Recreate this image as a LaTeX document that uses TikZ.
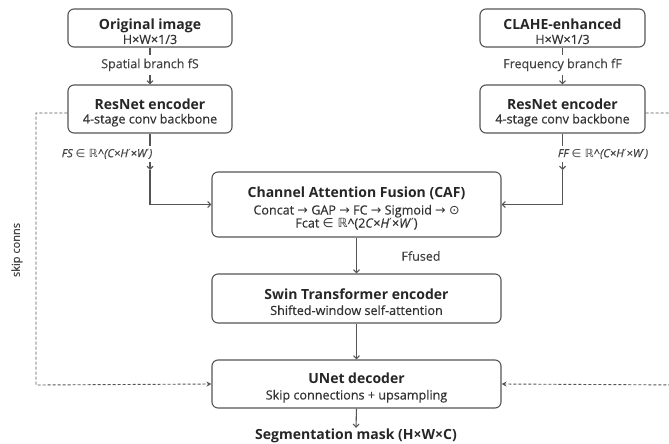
\documentclass[tikz,border=0pt]{standalone}
\usepackage{fontspec}
\setmainfont{Open Sans}
\newfontfamily\medf{Open Sans}[FakeBold=0.35]
\newfontfamily\symf{DejaVu Sans}
\usetikzlibrary{arrows.meta}
\definecolor{txt}{HTML}{262626}
\definecolor{subc}{HTML}{333333}
\definecolor{edge}{HTML}{555555}
\definecolor{lab}{HTML}{444444}
\newcommand{\sy}[1]{{\symf #1}}
\newcommand{\bt}[1]{{\fontsize{14}{13}\selectfont\bfseries\rule{0pt}{18pt}#1}}
\newcommand{\bs}[1]{{\medf\color{subc}#1}}
\begin{document}
\begin{tikzpicture}[x=1pt,y=-1pt,
  box/.style={draw=edge, line width=1.1pt, rounded corners=6pt, fill=white,
    align=center, inner sep=0pt, text=txt, font=\fontsize{12.6}{13}\selectfont},
  lbl/.style={font=\medf\fontsize{12.5}{13}\selectfont, text=lab, inner sep=2pt},
  arr/.style={draw=edge, line width=1.1pt, -{Straight Barb[length=3pt,width=6pt]}},
  skip/.style={draw=edge, line width=0.9pt, dash pattern=on 3pt off 2pt,
    -{Stealth[open,length=5pt,width=5pt]}}
]
\useasboundingbox (0,0) rectangle (669,444);
\fill[white] (0,0) rectangle (669,444);

% boxes
\node[box, minimum width=164pt, minimum height=38pt] (orig) at (150,28)
  {\bt{Original image}\\[1pt]\bs{H×W×1/3}};
\node[box, minimum width=165pt, minimum height=38pt] (clahe) at (562.5,28)
  {\bt{CLAHE-enhanced}\\[1pt]\bs{H×W×1/3}};
\node[box, minimum width=164pt, minimum height=48pt] (resL) at (150,109)
  {\bt{ResNet encoder}\\[1pt]\bs{4-stage conv backbone}};
\node[box, minimum width=165pt, minimum height=48pt] (resR) at (562.5,109)
  {\bt{ResNet encoder}\\[1pt]\bs{4-stage conv backbone}};
\node[box, minimum width=289pt, minimum height=65pt] (caf) at (356.5,204.5)
  {\bt{Channel Attention Fusion (CAF)}\\[4pt]
   \bs{Concat \sy{→} GAP \sy{→} FC \sy{→} Sigmoid \sy{→} \sy{⊙}}\\
   \bs{Fcat \sy{∈ ℝ}\^{}(2\textit{C}×\textit{H}\sy{′}×\textit{W}\sy{′})}};
\node[box, minimum width=289pt, minimum height=49pt] (swin) at (356.5,298.5)
  {\bt{Swin Transformer encoder}\\[2pt]\bs{Shifted-window self-attention}};
\node[box, minimum width=289pt, minimum height=48pt] (unet) at (356.5,384)
  {\bt{UNet decoder}\\[3pt]\bs{Skip connections + upsampling}};
\node[text=txt, font=\fontsize{14}{14}\selectfont\bfseries, inner sep=1pt] (seg) at (356,436)
  {Segmentation mask (H×W×C)};

% coordinates
\coordinate (fsL) at (150,170);
\coordinate (fsR) at (562.5,170);
\coordinate (skipL) at (36,385);
\coordinate (skipR) at (685,385);

% solid arrows
\draw[arr] (orig.south) -- (resL.north)
  node[lbl, fill=white, pos=0.47, inner ysep=4pt] (spl) {Spatial branch fS};
\draw[arr] (clahe.south) -- (resR.north)
  node[lbl, fill=white, pos=0.47, inner ysep=4pt] (frl) {Frequency branch fF};
\draw[arr] (resL.south) -- (fsL);
\draw[arr] (fsL) |- (caf.west);
\draw[arr] (resR.south) -- (fsR);
\draw[arr] (fsR) |- (caf.east);
\node[lbl, fill=white, font=\medf\fontsize{11.2}{12}\selectfont\itshape, inner sep=3pt] (fslab) at (107,154)
  {FS \sy{∈ ℝ}\^{}(C×H\sy{′}×W\sy{′})};
\node[lbl, fill=white, font=\medf\fontsize{11.2}{12}\selectfont\itshape, inner sep=3pt] (fflab) at (603,154)
  {FF \sy{∈ ℝ}\^{}(C×H\sy{′}×W\sy{′})};
\draw[arr] (caf.south) -- (swin.north);
\node[lbl] (ffused) at (421,256) {Ffused};
\draw[arr] (swin.south) -- (unet.north);
\draw[arr] (unet.south) -- (seg.north);

% skip connections
\draw[skip] ([yshift=-4pt]resL.west) -| (skipL) -- (unet.west);
\draw[skip] ([yshift=-4pt]resR.east) -| (skipR) -- (unet.east);
\node[lbl, rotate=90, font=\medf\fontsize{11}{12}\selectfont] (skiplab) at (17,250) {skip conns};
\end{tikzpicture}
\end{document}
